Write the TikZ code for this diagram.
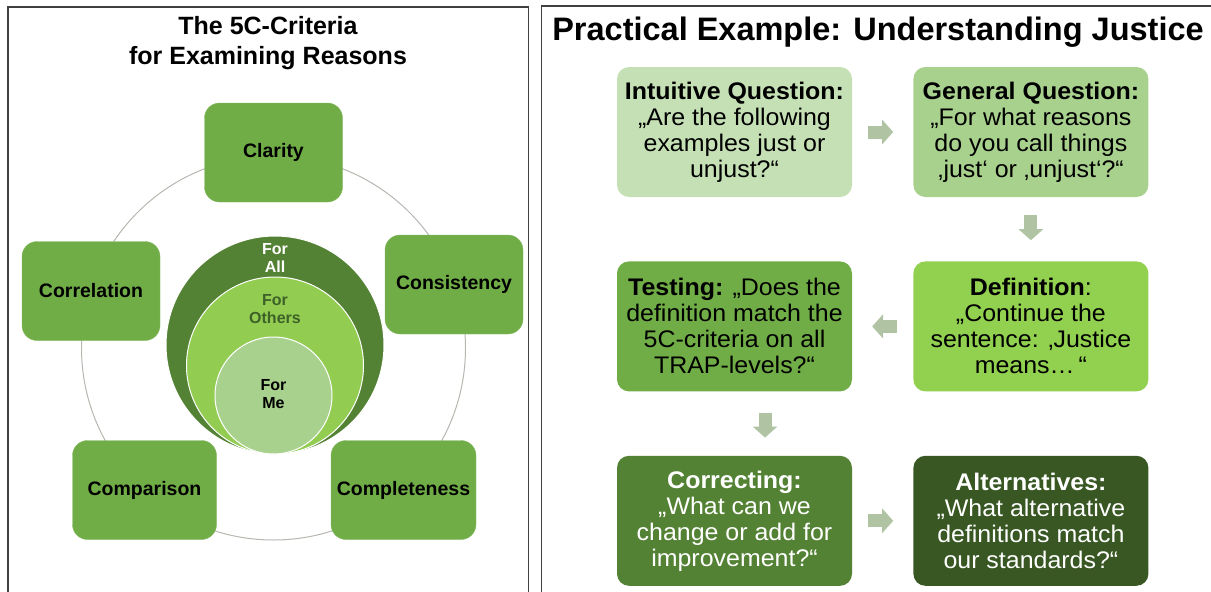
\documentclass[tikz,border=0pt]{standalone}
\usepackage{fontspec}
\setmainfont{Liberation Sans}
\newfontfamily\stepfont[FakeStretch=1.04]{Liberation Sans}
\usetikzlibrary{arrows.meta, positioning}

\definecolor{critgreen}{HTML}{70AD47}
\definecolor{ringall}{HTML}{548235}
\definecolor{ringothers}{HTML}{92CD52}
\definecolor{ringme}{HTML}{A9D18E}
\definecolor{otherstext}{HTML}{3E6128}
\definecolor{orbitgray}{HTML}{B4B8B0}
\definecolor{stepone}{HTML}{C5E0B4}
\definecolor{steptwo}{HTML}{A9D18E}
\definecolor{stepthree}{HTML}{92D050}
\definecolor{stepfour}{HTML}{70AD47}
\definecolor{stepfive}{HTML}{548235}
\definecolor{stepsix}{HTML}{385723}
\definecolor{flowgray}{HTML}{B0C4A4}
\definecolor{framegray}{HTML}{404040}

\newcommand{\qhead}[1]{{\bfseries #1}}

\tikzset{
  panel/.style={draw=framegray, line width=1.2pt},
  heading/.style={align=center, font=\bfseries\fontsize{25}{30}\selectfont},
  criterion/.style={draw=critgreen!85!white, fill=critgreen, rounded corners=15pt, minimum width=138pt, minimum height=99pt, align=center, font=\bfseries\fontsize{19.5}{22}\selectfont},
  ring/.style={circle, draw=white, line width=1pt, inner sep=0pt},
  ringlabel/.style={align=center, font=\bfseries\fontsize{16}{18}\selectfont},
  orbit/.style={draw=orbitgray, line width=1pt},
  question/.style={rounded corners=12pt, minimum width=235pt, minimum height=130pt, align=center, inner sep=2pt, font=\stepfont\fontsize{24}{26}\selectfont},
  flow/.style={-{Triangle[width=24pt, length=11pt]}, line width=13pt, draw=flowgray}
}

\begin{document}
\begin{tikzpicture}[x=1pt, y=-1pt, node distance=64pt and 61pt]
    \useasboundingbox (0,0) rectangle (1211,592);

    % left panel: the five criteria around the three circles
    \draw[panel] (8,592) -- (8,7) -- (528.7,7) -- (528.7,592);
    \node[heading] (crittitle) at (268,43) {The 5C-Criteria\\for Examining Reasons};
    \draw[orbit] (273.5,348) circle (192);

    \node[criterion] (clarity) at (273.5,152.5) {Clarity};
    \node[criterion] (correlation) at (91,291) {Correlation};
    \node[criterion] (consistency) at (454,284.5) {Consistency};
    \node[criterion, minimum width=144pt] (comparison) at (144.5,490) {Comparison};
    \node[criterion, minimum width=145pt] (completeness) at (403.5,490) {Completeness};

    \node[ring, fill=ringall, minimum size=218pt] (forall) at (275,345) {};
    \node[ring, fill=ringothers, minimum size=177pt] (forothers) at (275,365.5) {};
    \node[ring, fill=ringme, minimum size=117pt] (forme) at (273.5,395.5) {};
    \node[ringlabel, text=white] (alltext) at (275,258) {For\\All};
    \node[ringlabel, text=otherstext] (otherstext) at (275,309) {For\\Others};
    \node[ringlabel] (metext) at (273.5,394) {For\\Me};

    % right panel: the six steps
    \draw[panel] (541.7,592) -- (541.7,6) -- (1211,6);
    \node[font=\bfseries\fontsize{32.5}{36}\selectfont] (extitle) at (878,32) {Practical Example: Understanding Justice};

    \node[question, fill=stepone] (intuitive) at (734.5,132) {\qhead{Intuitive Question:}\\„Are the following\\examples just or\\unjust?“};
    \node[question, fill=steptwo, right=of intuitive] (general) {\qhead{General Question:}\\„For what reasons\\do you call things\\‚just‘ or ‚unjust‘?“};
    \node[question, fill=stepthree, below=of general] (definition) {\qhead{Definition}:\\„Continue the\\sentence: ‚Justice\\means…\,“};
    \node[question, fill=stepfour, left=of definition] (testing) {\qhead{Testing:} „Does the\\definition match the\\5C-criteria on all\\TRAP-levels?“};
    \node[question, fill=stepfive, text=white, below=of testing] (correcting) {\qhead{Correcting:}\\„What can we\\change or add for\\improvement?“};
    \node[question, fill=stepsix, text=white, right=of correcting] (alternatives) {\qhead{Alternatives:}\\„What alternative\\definitions match\\our standards?“};

    \draw[flow, shorten <=16pt, shorten >=20pt] (intuitive) -- (general);
    \draw[flow, shorten <=18pt, shorten >=21pt] (general) -- (definition);
    \draw[flow, shorten <=16pt, shorten >=20pt] (definition) -- (testing);
    \draw[flow, shorten <=21pt, shorten >=18pt] ([xshift=30.5pt]testing.south) -- ([xshift=30.5pt]correcting.north);
    \draw[flow, shorten <=16pt, shorten >=20pt] (correcting) -- (alternatives);
\end{tikzpicture}
\end{document}
